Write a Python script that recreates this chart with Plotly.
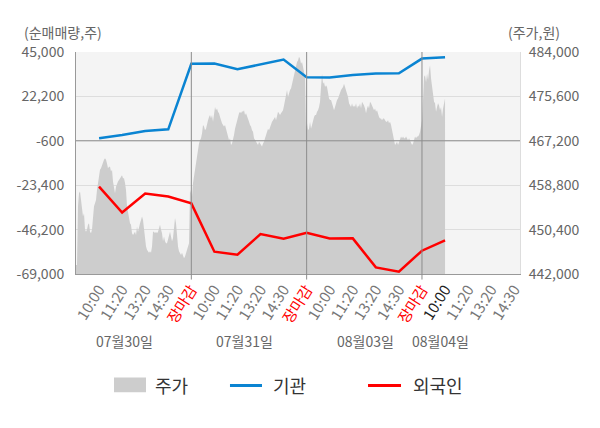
import numpy as np
import plotly.graph_objects as go

FONT = "Noto Sans CJK KR"

# x축: 하루 = 5칸 (10:00, 11:20, 13:20, 14:30, 장마감)
days = ["07월30일", "07월31일", "08월03일", "08월04일"]
tick_times = ["10:00", "11:20", "13:20", "14:30", "장마감"]

# 투자자별 누적 순매매량 (주), 1칸 간격
inst = [700, 2350, 4400, 5270, 38960, 39060, 36140, 38700, 41110,
        32050, 31900, 33220, 33940, 34100, 41620, 42290]
foreign = [-24120, -37430, -27700, -29240, -32720, -57550, -59090, -48490,
           -50900, -47830, -50740, -50700, -65590, -67790, -57040, -51770]

# 주가 (원), 장중 흐름
price = [
    # 07/30
    443700, 443700, 454800, 457300, 457600, 456000, 454800, 452900, 453500, 450400,
    450000, 450400, 451300, 451600, 450000, 449700, 450400, 452900, 454800, 455400,
    456000, 457900, 459200, 460400, 461700, 462000, 462600, 463200, 463600, 463900,
    463600, 462900, 462000, 462300, 462300, 461400, 461700, 459500, 457900, 457300,
    458500, 459200, 459500, 459800, 460100, 460400, 460700, 460100, 460100, 459200,
    457900, 454800, 453500, 452900, 451600, 451300, 449700, 449400, 449700, 450000,
    449400, 451000, 450000, 451000, 451600, 452200, 452900, 452200, 450400, 449100,
    447200, 446600, 446300, 446000, 446300, 446000, 447200, 450000, 450000, 449700,
    450000, 449700, 450000, 451000, 451300, 450400, 449700, 448200, 449100, 448200,
    447800, 447800, 448500, 449100, 450000, 449100, 448200, 448800, 451000, 452600,
    451600, 449100, 447200, 446300, 446000, 445600, 446000, 445600, 445000, 445300,
    446000, 446600, 447500, 447800,
    # 07/31
    457900, 457300, 456600, 459200, 460400, 462300, 463600, 464800, 465500, 466700,
    467300, 467700, 468600, 470200, 469900, 469200, 469500, 470500, 471100, 471700,
    472100, 471400, 472100, 470800, 472700, 473600, 473000, 473300, 472700, 472400,
    471700, 470800, 470500, 470200, 469900, 470200, 469500, 468900, 468300, 467300,
    467700, 466400, 466700, 467300, 468300, 469500, 470200, 471400, 472100, 472400,
    472700, 472400, 472800, 472700, 473000, 472100, 472400, 471700, 471100, 470800,
    470200, 469900, 469200, 468900, 467700, 467300, 467000, 466700, 466400, 467000,
    466700, 466400, 466100, 466700, 467000, 467700, 468300, 468900, 469500, 469200,
    469900, 470500, 470800, 471100, 471400, 471700, 471100, 471700, 472700, 472400,
    472100, 472400, 472700, 473000, 473900, 474900, 475200, 476800, 475500, 476500,
    476800, 477100, 478000, 478700, 479300, 480500, 481500, 482100, 482400, 483100,
    482700, 481800, 482100, 480900, 479900, 479300,
    # 08/03
    469500, 470500, 469200, 469500, 470800, 469500, 470200, 471400, 471700, 472100,
    472100, 472700, 473000, 473600, 474600, 477400, 479900, 478000, 478300, 477400,
    477700, 477400, 476100, 475200, 474900, 474900, 474300, 473300, 473000, 473600,
    474600, 474900, 475200, 475800, 476100, 476800, 477100, 477400, 478000, 477400,
    477100, 476500, 475500, 474300, 473900, 473600, 474300, 473600, 473900, 473600,
    474300, 473300, 473900, 473600, 474300, 473300, 474600, 474300, 473900, 473300,
    472400, 473300, 473900, 473300, 474600, 474300, 473900, 473300, 473000, 473300,
    472700, 473000, 472100, 471700, 471400, 471400, 471100, 471400, 471400, 471100,
    470800, 470800, 471100, 470500, 470800, 470200, 469200, 468300, 467300, 466400,
    466700, 467000, 466400, 467000, 467700, 468000, 467700, 468000, 467700, 467700,
    468000, 467700, 467300, 467700, 467300, 466700, 466400, 466700, 467300, 468000,
    467700, 468000, 468000, 468300, 468900, 470200, 471100,
    # 08/04
    474900, 479300, 479600, 478300, 479900, 478700, 480500, 481500, 479000, 477700,
    475500, 474600, 474300, 472700, 473600, 474300, 473900, 473000, 473600, 471700,
    473300, 474600, 475200,
]

left_ticks = [45000, 22200, -600, -23400, -46200, -69000]
right_ticks = [484000, 475600, 467200, 458800, 450400, 442000]

slots_per_day = len(tick_times)
line_x = np.arange(1, len(inst) + 1)
price_x = np.arange(len(price)) * (16 / (len(price) - 1))

tickvals, ticktext = [], []
for d in range(len(days)):
    for k, t in enumerate(tick_times):
        pos = d * slots_per_day + k + 1
        if pos > 19:
            continue
        if t == "장마감":
            txt = '<span style="color:#ff0000">장마감</span>'
        elif pos == len(inst):
            txt = '<span style="color:#222222">%s</span>' % t
        else:
            txt = t
        tickvals.append(pos)
        ticktext.append(txt)

fig = go.Figure()
# 주가 영역은 기본 y축(오른쪽), 순매매 선은 겹친 y2축(왼쪽) -> 선이 위에 그려짐
fig.add_trace(go.Scatter(
    x=price_x, y=price, name="주가", yaxis="y",
    mode="lines", fill="tozeroy", line=dict(width=0, color="#cdcdcd"),
    fillcolor="#cdcdcd", hoverinfo="skip", showlegend=False
))
fig.add_trace(go.Scatter(
    x=line_x, y=inst, name="기관", mode="lines", yaxis="y2",
    line=dict(width=2.5, color="#0a84d2"), showlegend=False
))
fig.add_trace(go.Scatter(
    x=line_x, y=foreign, name="외국인", mode="lines", yaxis="y2",
    line=dict(width=2.5, color="#ff0000"), showlegend=False
))

# 날짜 구분선
for d in range(1, len(days)):
    fig.add_shape(type="line", xref="x", yref="paper",
                  x0=d * slots_per_day, x1=d * slots_per_day, y0=-0.025, y1=1,
                  line=dict(color="#8c8c8c", width=1), layer="above")
fig.add_shape(type="line", xref="paper", yref="y2", x0=0, x1=1, y0=-600, y1=-600,
              line=dict(color="#8c8c8c", width=1), layer="above")

day_pos = [2.1, 7.3, 12.55, 15.8]
for d, p in zip(days, day_pos):
    fig.add_annotation(x=p, y=-0.358, xref="x", yref="paper", text=d,
                       showarrow=False, font=dict(size=14, color="#666666"))

fig.add_annotation(x=-0.122, y=1.09, xref="paper", yref="paper", text="(순매매량,주)",
                   showarrow=False, xanchor="left", yanchor="middle",
                   font=dict(size=14, color="#666666"))
fig.add_annotation(x=1.095, y=1.09, xref="paper", yref="paper", text="(주가,원)",
                   showarrow=False, xanchor="right", yanchor="middle",
                   font=dict(size=14, color="#666666"))

# 범례
fig.add_shape(type="rect", xref="paper", yref="paper", x0=0.0856, x1=0.1577,
              y0=-0.533, y1=-0.466, fillcolor="#cdcdcd", line=dict(width=0))
fig.add_shape(type="line", xref="paper", yref="paper", x0=0.3468, x1=0.4189,
              y0=-0.502, y1=-0.502, line=dict(color="#0a84d2", width=3))
fig.add_shape(type="line", xref="paper", yref="paper", x0=0.6577, x1=0.732,
              y0=-0.502, y1=-0.502, line=dict(color="#ff0000", width=3))
for name, lx in [("주가", 0.1734), ("기관", 0.439), ("외국인", 0.7545)]:
    fig.add_annotation(x=lx, y=-0.50, xref="paper", yref="paper", text=name,
                       showarrow=False, xanchor="left", yanchor="middle",
                       font=dict(size=18, color="#333333"))

fig.update_layout(
    width=600, height=428,
    margin=dict(l=76, r=80, t=52, b=154),
    paper_bgcolor="white", plot_bgcolor="#f4f4f4",
    font=dict(family=FONT, color="#666666", size=14),
    showlegend=False,
    xaxis=dict(range=[0, 19.25], tickvals=tickvals, ticktext=ticktext, tickangle=-58,
               showgrid=False, zeroline=False, showline=True, linecolor="#999999",
               tickfont=dict(size=15, color="#777777"), ticks="", automargin=False),
    yaxis=dict(range=[442000, 484000], tickvals=right_ticks,
               ticktext=[f"{v:,}" for v in right_ticks],
               side="right", showgrid=True, gridcolor="#dddddd",
               zeroline=False, showline=True, linecolor="#dddddd", ticks="",
               ticklabelstandoff=5, automargin=False),
    yaxis2=dict(range=[-69000, 45000], tickvals=left_ticks,
                ticktext=[f"{v:,}" for v in left_ticks],
                overlaying="y", side="left", showgrid=True, gridcolor="#dddddd",
                zeroline=False, showline=True, linecolor="#999999", ticks="",
                ticklabelstandoff=8, automargin=False),
)

# 페이지 기본 여백 제거
fig.write_html("out.html", config={"displayModeBar": False},
               post_script="document.body.style.margin='0px';")
